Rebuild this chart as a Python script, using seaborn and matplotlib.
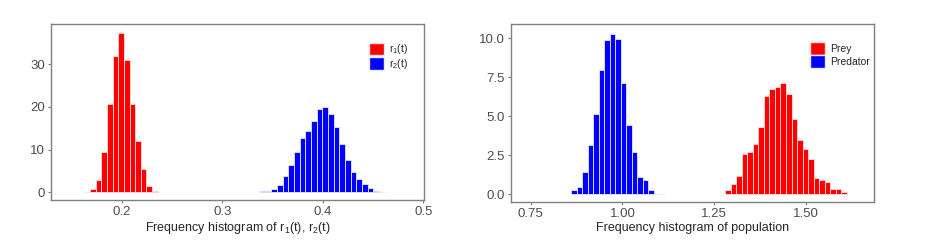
import numpy as np
import pandas as pd
import matplotlib
matplotlib.use("Agg")
import matplotlib.pyplot as plt
import seaborn as sns
from matplotlib.patches import Patch

# left panel: growth rates r1(t), r2(t) (density histogram)
R_WIDTH = 0.00563
r1_first = 0.1655
r1_dens = [0.1, 0.8, 2.9, 9.5, 20.6, 32.0, 37.4, 31.0, 20.7, 12.0, 5.4, 1.5, 0.3]
r2_first = 0.3404
r2_dens = [0.2, 0.4, 0.7, 1.7, 3.75, 6.5, 9.5, 12.7, 14.45, 16.7, 19.4, 20.0,
           18.4, 15.3, 11.4, 7.5, 4.8, 3.1, 1.9, 0.9, 0.3, 0.15]

# right panel: population (density histogram)
P_WIDTH = 0.015
pred_first = 0.868
pred_dens = [0.28, 0.49, 1.45, 3.16, 5.17, 7.95, 9.87, 10.3, 9.96, 7.14, 4.47,
             2.69, 1.13, 0.92, 0.28, 0.0, 0.02]
prey_first = 1.288
prey_dens = [0.28, 0.64, 1.15, 2.6, 2.73, 3.2, 4.34, 6.32, 6.75, 6.86, 7.14,
             6.41, 4.8, 3.47, 2.9, 2.26, 1.07, 0.94, 0.79, 0.34, 0.32, 0.17]

RED = "#ff0000"
BLUE = "#0000ff"
GREY = "#7f7f7f"

sns.set_style("white")
plt.rcParams["font.family"] = ["Liberation Sans", "DejaVu Sans"]


def hist(ax, first, dens, width, color):
    centers = first + width * np.arange(len(dens))
    edges = list(np.append(centers - width / 2, centers[-1] + width / 2))
    df = pd.DataFrame({"x": centers, "w": dens})
    sns.histplot(data=df, x="x", weights="w", bins=edges, color=color,
                 edgecolor="#e8e8ff" if color == BLUE else "#ffe0e0",
                 linewidth=0.6, alpha=1, ax=ax)


def style(ax):
    for s in ax.spines.values():
        s.set_visible(True)
        s.set_color(GREY)
        s.set_linewidth(1.0)
    ax.tick_params(axis="both", direction="out", length=2.5, width=0.8,
                   color=GREY, labelcolor="#4d4d4d", labelsize=9.5, pad=1.5,
                   bottom=True, left=True)
    ax.set_ylabel("")


def legend(ax, labels, anchor):
    ax.legend(handles=[Patch(facecolor=RED, edgecolor="#ffe0e0"),
                       Patch(facecolor=BLUE, edgecolor="#e8e8ff")],
              labels=labels, loc="upper left", bbox_to_anchor=anchor,
              frameon=False, fontsize=7.5, handlelength=1.45, handleheight=1.45,
              handletextpad=0.45, labelspacing=0.05, borderaxespad=0,
              borderpad=0)


fig = plt.figure(figsize=(9.41, 2.4), dpi=100)
ax1 = fig.add_axes([0.0539, 0.1667, 0.397, 0.7333])
ax2 = fig.add_axes([0.5427, 0.157, 0.3864, 0.743])

hist(ax1, r1_first, r1_dens, R_WIDTH, RED)
hist(ax1, r2_first, r2_dens, R_WIDTH, BLUE)
ax1.set_xlim(0.1294, 0.5008)
ax1.set_ylim(-1.8, 39.42)
ax1.set_xticks([0.2, 0.3, 0.4, 0.5])
ax1.set_xticklabels(["0.2", "0.3", "0.4", "0.5"])
ax1.set_yticks([0, 10, 20, 30])
style(ax1)
ax1.set_xlabel(r"Frequency histogram of r$_\mathregular{1}$(t), r$_\mathregular{2}$(t)",
               fontsize=9, labelpad=1.5)
legend(ax1, [r"r$_\mathregular{1}$(t)", r"r$_\mathregular{2}$(t)"], (0.852, 0.895))

hist(ax2, pred_first, pred_dens, P_WIDTH, BLUE)
hist(ax2, prey_first, prey_dens, P_WIDTH, RED)
ax2.set_xlim(0.6955, 1.686)
ax2.set_ylim(-0.51, 10.92)
ax2.set_xticks([0.75, 1.00, 1.25, 1.50])
ax2.set_xticklabels(["0.75", "1.00", "1.25", "1.50"])
ax2.set_yticks([0, 2.5, 5.0, 7.5, 10.0])
ax2.set_yticklabels(["0.0", "2.5", "5.0", "7.5", "10.0"])
style(ax2)
ax2.set_xlabel("Frequency histogram of population", fontsize=9, labelpad=1.5)
legend(ax2, ["Prey", "Predator"], (0.823, 0.897))

fig.savefig("out.png", dpi=100)
